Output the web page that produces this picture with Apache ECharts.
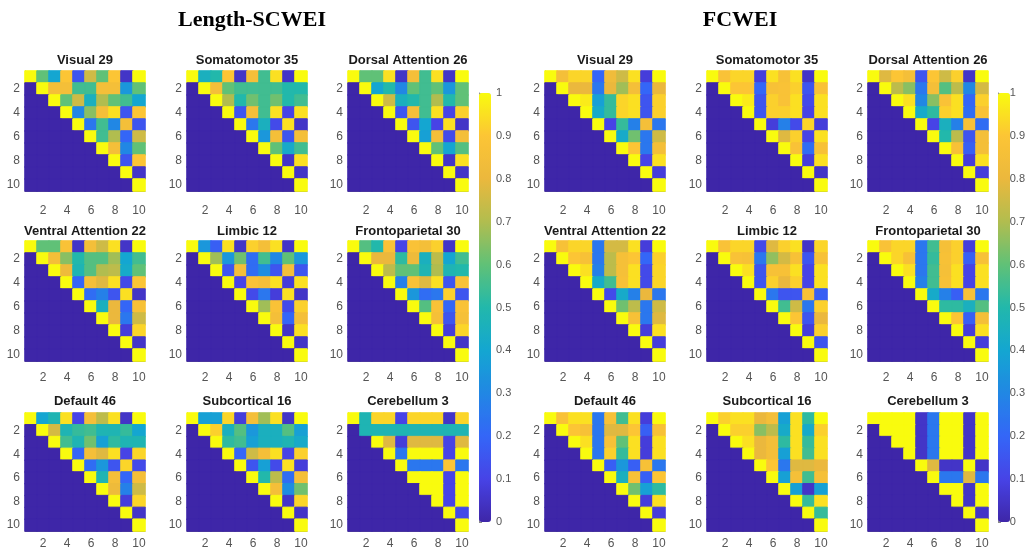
<!DOCTYPE html>
<html>
<head>
<meta charset="utf-8">
<script src="https://cdn.jsdelivr.net/npm/echarts@6/dist/echarts.min.js"></script>
<style>html,body{margin:0;padding:0;background:#fff}#c{width:1028px;height:550px}</style>
</head>
<body>
<div id="c"></div>
<script>
// ---- DATA ----
const groupTitles = ['Length-SCWEI', 'FCWEI'];
const panelTitles = ['Visual 29', 'Somatomotor 35', 'Dorsal Attention 26',
  'Ventral Attention 22', 'Limbic 12', 'Frontoparietal 30',
  'Default 46', 'Subcortical 16', 'Cerebellum 3'];
const nodes = ['1','2','3','4','5','6','7','8','9','10'];
const colorbarTicks = [0,0.1,0.2,0.3,0.4,0.5,0.6,0.7,0.8,0.9,1];

// each row i lists values from column i (diagonal) to column 10; cells left of the diagonal are 0
const L_visual = [
[1,0.6,0.4,0.9,0.15,0.75,0.6,0.9,0.05,1],
[1,0.85,0.85,0.55,0.55,0.85,0.85,0.35,0.6],
[1,0.6,0.75,0.45,0.7,0.6,0.55,0.4],
[1,0.3,0.65,0.85,0.95,0.15,0.9],
[1,0.25,0.55,0.3,0.85,0.15],
[1,0.55,0.7,0.2,0.75],
[1,0.85,0.3,0.6],
[1,0.15,0.9],
[1,0.05],
[1]];
const L_somato = [
[1,0.45,0.5,0.9,0.05,0.85,0.55,0.95,0.05,1],
[1,0.85,0.6,0.55,0.55,0.55,0.55,0.5,0.5],
[1,0.7,0.5,0.62,0.55,0.62,0.5,0.55],
[1,0.15,0.85,0.55,0.95,0.1,0.95],
[1,0.25,0.45,0.12,0.95,0.05],
[1,0.35,0.85,0.15,0.85],
[1,0.6,0.42,0.55],
[1,0.05,0.95],
[1,0.05],
[1]];
const L_dorsal = [
[1,0.6,0.6,0.95,0.05,0.85,0.55,0.95,0.05,1],
[1,0.4,0.5,0.3,0.6,0.55,0.6,0.35,0.6],
[1,0.75,0.45,0.5,0.55,0.7,0.5,0.6],
[1,0.15,0.85,0.55,0.95,0.1,0.92],
[1,0.15,0.4,0.1,0.95,0.05],
[1,0.38,0.85,0.12,0.85],
[1,0.6,0.4,0.58],
[1,0.05,0.95],
[1,0.05],
[1]];
const L_ventral = [
[1,0.6,0.6,0.88,0.05,0.85,0.75,0.95,0.05,1],
[1,0.85,0.65,0.5,0.58,0.58,0.68,0.4,0.55],
[1,0.82,0.48,0.58,0.7,0.72,0.42,0.6],
[1,0.2,0.85,0.78,0.95,0.12,0.9],
[1,0.22,0.28,0.15,0.95,0.05],
[1,0.45,0.8,0.2,0.87],
[1,0.8,0.25,0.75],
[1,0.08,0.93],
[1,0.05],
[1]];
const L_limbic = [
[1,0.35,0.18,0.95,0.05,0.92,0.85,0.95,0.05,1],
[1,0.68,0.35,0.62,0.22,0.55,0.3,0.6,0.35],
[1,0.15,0.85,0.22,0.32,0.15,0.85,0.15],
[1,0.1,0.88,0.85,0.95,0.08,0.95],
[1,0.12,0.25,0.08,0.95,0.05],
[1,0.68,0.88,0.12,0.92],
[1,0.85,0.2,0.85],
[1,0.05,0.95],
[1,0.05],
[1]];
const L_fronto = [
[1,0.58,0.5,0.88,0.1,0.88,0.85,0.92,0.05,1],
[1,0.8,0.8,0.52,0.82,0.45,0.72,0.4,0.55],
[1,0.72,0.6,0.6,0.48,0.7,0.48,0.5],
[1,0.28,0.88,0.78,0.95,0.15,0.88],
[1,0.35,0.22,0.25,0.92,0.15],
[1,0.58,0.88,0.2,0.88],
[1,0.86,0.15,0.86],
[1,0.08,0.93],
[1,0.05],
[1]];
const L_default = [
[1,0.4,0.48,0.95,0.1,0.85,0.72,0.95,0.05,1],
[1,0.76,0.48,0.53,0.55,0.48,0.48,0.53,0.4],
[1,0.55,0.48,0.62,0.38,0.52,0.48,0.48],
[1,0.2,0.85,0.78,0.95,0.1,0.93],
[1,0.22,0.35,0.15,0.93,0.12],
[1,0.48,0.85,0.2,0.85],
[1,0.82,0.28,0.75],
[1,0.08,0.93],
[1,0.05],
[1]];
const L_subcort = [
[1,0.38,0.38,0.93,0.08,0.85,0.68,0.95,0.05,1],
[1,0.92,0.45,0.58,0.35,0.45,0.45,0.58,0.38],
[1,0.52,0.55,0.38,0.45,0.45,0.48,0.42],
[1,0.2,0.75,0.85,0.95,0.1,0.92],
[1,0.15,0.38,0.12,0.95,0.08],
[1,0.5,0.72,0.22,0.85],
[1,0.85,0.32,0.62],
[1,0.05,0.93],
[1,0.05],
[1]];
const L_cereb = [
[1,0.48,0.93,0.93,0.1,0.93,0.93,0.93,0.05,0.93],
[0.48,0.48,0.48,0.48,0.48,0.48,0.48,0.48,0.48],
[1,0.78,0.08,0.78,0.78,0.78,0.1,0.78],
[1,0.25,1,1,1,0.1,1],
[1,0.25,0.25,0.25,0.9,0.25],
[1,1,1,0.1,1],
[1,1,0.1,1],
[1,0.1,1],
[1,0.12],
[1]];

const R_visual = [
[1,0.85,0.93,0.93,0.2,0.83,0.75,0.95,0.08,1],
[1,0.8,0.8,0.25,0.8,0.68,0.85,0.2,0.8],
[1,0.97,0.38,0.53,0.93,0.95,0.15,0.92],
[1,0.42,0.53,0.93,0.95,0.15,0.92],
[1,0.1,0.53,0.28,0.85,0.25],
[1,0.42,0.62,0.25,0.75],
[1,0.9,0.25,0.85],
[1,0.1,0.95],
[1,0.08],
[1]];
const R_somato = [
[1,0.88,0.93,0.93,0.08,0.95,0.87,0.95,0.05,1],
[1,0.9,0.9,0.2,0.87,0.88,0.92,0.15,0.88],
[1,0.97,0.15,0.92,0.88,0.95,0.12,0.95],
[1,0.15,0.92,0.92,0.95,0.1,0.95],
[1,0.08,0.28,0.12,0.93,0.08],
[1,0.78,0.92,0.1,0.95],
[1,0.88,0.22,0.87],
[1,0.08,0.95],
[1,0.05],
[1]];
const R_dorsal = [
[1,0.78,0.9,0.85,0.15,0.9,0.75,0.92,0.05,1],
[1,0.72,0.65,0.25,0.85,0.58,0.72,0.3,0.76],
[1,0.95,0.3,0.65,0.88,0.95,0.2,0.92],
[1,0.42,0.52,0.92,0.95,0.22,0.88],
[1,0.1,0.45,0.28,0.87,0.22],
[1,0.5,0.72,0.15,0.85],
[1,0.87,0.18,0.85],
[1,0.08,0.95],
[1,0.08],
[1]];
const R_ventral = [
[1,0.87,0.93,0.93,0.25,0.76,0.76,0.95,0.08,1],
[1,0.9,0.87,0.25,0.72,0.86,0.9,0.2,0.92],
[1,0.95,0.28,0.72,0.86,0.95,0.12,0.93],
[1,0.42,0.55,0.87,0.95,0.12,0.93],
[1,0.12,0.42,0.28,0.8,0.25],
[1,0.62,0.72,0.25,0.75],
[1,0.87,0.25,0.78],
[1,0.08,0.95],
[1,0.08],
[1]];
const R_limbic = [
[1,0.88,0.93,0.93,0.12,0.78,0.92,0.95,0.05,0.93],
[1,0.88,0.87,0.25,0.66,0.76,0.87,0.15,0.87],
[1,0.95,0.15,0.87,0.87,0.95,0.1,0.95],
[1,0.15,0.92,0.8,0.92,0.1,0.95],
[1,0.25,0.15,0.15,0.87,0.18],
[1,0.55,0.75,0.25,0.92],
[1,0.9,0.15,0.8],
[1,0.08,0.92],
[1,0.15],
[1]];
const R_fronto = [
[1,0.88,0.93,0.93,0.25,0.55,0.86,0.92,0.08,1],
[1,0.93,0.87,0.25,0.53,0.87,0.92,0.18,0.87],
[1,0.95,0.25,0.55,0.86,0.95,0.1,0.95],
[1,0.28,0.55,0.87,0.95,0.1,0.95],
[1,0.42,0.28,0.18,0.87,0.25],
[1,0.52,0.52,0.45,0.58],
[1,0.9,0.18,0.85],
[1,0.08,0.95],
[1,0.08],
[1]];
const R_default = [
[1,0.88,0.95,0.95,0.25,0.87,0.55,0.95,0.08,1],
[1,0.9,0.87,0.25,0.78,0.78,0.9,0.18,0.87],
[1,0.95,0.25,0.87,0.6,0.95,0.08,0.95],
[1,0.25,0.92,0.53,0.95,0.08,0.95],
[1,0.18,0.35,0.18,0.87,0.25],
[1,0.45,0.87,0.18,0.9],
[1,0.62,0.38,0.52],
[1,0.08,0.95],
[1,0.08],
[1]];
const R_subcort = [
[1,0.92,0.95,0.95,0.8,0.85,0.38,0.95,0.52,1],
[1,0.92,0.92,0.65,0.72,0.42,0.95,0.42,0.92],
[1,0.95,0.8,0.85,0.52,0.95,0.53,0.95],
[1,0.8,0.85,0.38,0.95,0.55,0.95],
[1,0.9,0.25,0.78,0.78,0.8],
[1,0.38,0.86,0.55,0.86],
[1,0.38,0.05,0.38],
[1,0.53,0.95],
[1,0.53],
[1]];
const R_cereb = [
[1,1,1,1,0.05,0.25,1,1,0.05,1],
[1,1,1,0.05,0.25,1,1,0.05,1],
[1,1,0.05,0.25,1,1,0.05,1],
[1,0.05,0.25,1,1,0.05,1],
[1,0.78,0.05,0.05,1,0.05],
[1,0.25,0.25,0.78,0.25],
[1,1,0.05,1],
[1,0.05,1],
[1,0.05],
[1]];

const leftPanels = [L_visual, L_somato, L_dorsal, L_ventral, L_limbic, L_fronto, L_default, L_subcort, L_cereb];
const rightPanels = [R_visual, R_somato, R_dorsal, R_ventral, R_limbic, R_fronto, R_default, R_subcort, R_cereb];

// ---- LAYOUT / STYLE ----
const parula = ['#3E26A8','#4743E6','#3466F7','#2187E4','#14A6D1','#22B8AB','#60C177','#B1BD4F','#EBB83D','#FCC535','#F9FB0E'];
const colLefts = [[25,187,348],[545,707,868]];
const rowTops = [71, 241, 413];
const PW = 120, PH = 120;
const xMargins = [14, 11, 7];
const groupCenters = [252, 740];
const titleTops = [54, 225, 395];
const cbLefts = [479, 998];
const cbTop = 93, cbH = 429, cbW = 12;
const font = 'Liberation Sans, Arial, Helvetica, sans-serif';
const nodesBottomUp = nodes.slice().reverse();   // y axis runs 10 (bottom) .. 1 (top)

function toCells(rows) {
  const out = [];
  for (let i = 0; i < 10; i++) {
    for (let j = 0; j < 10; j++) {
      const v = j < i ? 0 : rows[i][j - i];
      // stroke each cell in its own colour so no hairline seams show between cells
      out.push({ value: [nodes[j], nodes[i], v],
        itemStyle: { borderWidth: 1, borderColor: echarts.color.lerp(v, parula) } });
    }
  }
  return out;
}

const grid = [], xAxis = [], yAxis = [], series = [], title = [];
[leftPanels, rightPanels].forEach((panels, g) => {
  title.push({
    text: groupTitles[g], left: groupCenters[g], top: 9, textAlign: 'center', padding: 0,
    textStyle: { fontFamily: 'Liberation Serif, Times New Roman, serif', fontWeight: 'bold', fontSize: 22, color: '#000' }
  });
  panels.forEach((rows, p) => {
    const r = Math.floor(p / 3), c = p % 3;
    const idx = grid.length;
    grid.push({ left: colLefts[g][c], top: rowTops[r], width: PW, height: PH });
    xAxis.push({
      type: 'category', gridIndex: idx, data: nodes,
      axisLine: { show: true, lineStyle: { color: '#777' } }, axisTick: { show: false },
      axisLabel: { interval: (i) => (i + 1) % 2 === 0, margin: xMargins[r], color: '#555', fontSize: 12, fontFamily: font },
      splitLine: { show: false }
    });
    yAxis.push({
      type: 'category', gridIndex: idx, data: nodesBottomUp,
      axisLine: { show: true, lineStyle: { color: '#777' } }, axisTick: { show: false },
      axisLabel: { interval: (i) => i % 2 === 0, margin: 5, color: '#555', fontSize: 12, fontFamily: font },
      splitLine: { show: false }
    });
    series.push({
      type: 'heatmap', xAxisIndex: idx, yAxisIndex: idx, data: toCells(rows),
      emphasis: { disabled: true }, silent: true, progressive: 0
    });
    title.push({
      text: panelTitles[p], left: colLefts[g][c] + PW / 2, top: titleTops[r], textAlign: 'center', padding: 0,
      textStyle: { fontFamily: font, fontWeight: 'bold', fontSize: 13, color: '#1a1a1a' }
    });
  });
});

// colorbars: visualMap bar + a value axis carrying the tick labels
const visualMap = [];
[0, 1].forEach((g) => {
  visualMap.push({
    type: 'continuous', min: 0, max: 1, calculable: false, show: true,
    left: cbLefts[g], top: cbTop, itemWidth: cbW, itemHeight: cbH, padding: 0,
    text: null, showLabel: false,
    seriesIndex: [0,1,2,3,4,5,6,7,8].map(k => k + g * 9),
    inRange: { color: parula }
  });
  const idx = grid.length;
  grid.push({ left: cbLefts[g], top: cbTop, width: cbW, height: cbH });
  xAxis.push({ type: 'value', gridIndex: idx, show: false, min: 0, max: 1 });
  yAxis.push({
    type: 'value', gridIndex: idx, min: colorbarTicks[0], max: colorbarTicks[colorbarTicks.length - 1], interval: 0.1,
    position: 'right',
    axisLine: { show: true, lineStyle: { color: '#888' } },
    axisTick: { show: true, length: 3, lineStyle: { color: '#888' } },
    axisLabel: { margin: 5, color: '#555', fontSize: 11, fontFamily: font,
      formatter: (v) => String(Math.round(v * 10) / 10) },
    splitLine: { show: false }
  });
});

const chart = echarts.init(document.getElementById('c'), null, { renderer: 'canvas' });
chart.setOption({
  animation: false,
  backgroundColor: '#fff',
  title, grid, xAxis, yAxis, series, visualMap
});
</script>
</body>
</html>
